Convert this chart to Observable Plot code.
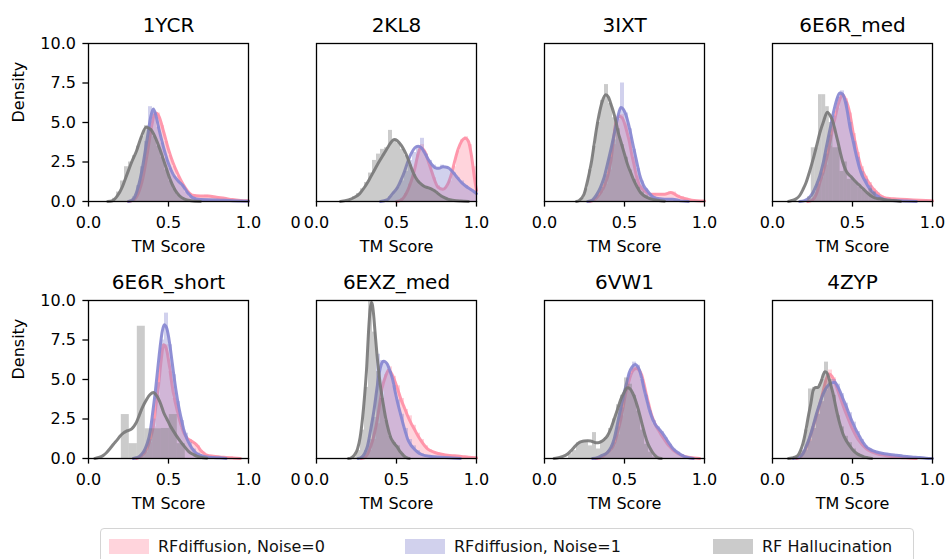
<!DOCTYPE html>
<html><head><meta charset="utf-8">
<script src="https://cdn.jsdelivr.net/npm/d3@7"></script>
<script src="https://cdn.jsdelivr.net/npm/@observablehq/plot@0.6"></script>
<style>
body{margin:0;background:#fff;font-family:"DejaVu Sans",sans-serif;}
#wrap{position:relative;width:947px;height:559px;overflow:hidden;background:#fff;}
#legend{position:absolute;left:100px;top:528px;width:814px;height:46px;border:1px solid #d4d4d4;border-radius:4px;box-sizing:border-box;background:#fff;}
.item{position:absolute;top:7px;height:20px;display:flex;align-items:center;font-size:16px;color:#111;white-space:nowrap;}
.sw{width:40px;height:15px;margin-right:9px;}
</style></head>
<body><div id="wrap"><div id="chart"></div><div id="legend"></div></div>
<script>
// ---------- data ----------
const panels = ["1YCR","2KL8","3IXT","6E6R_med","6E6R_short","6EXZ_med","6VW1","4ZYP"];
const seriesNames = ["RFdiffusion, Noise=0","RFdiffusion, Noise=1","RF Hallucination"];
const xTicks = [0, 0.5, 1.0];
const yTicks = [0, 2.5, 5.0, 7.5, 10.0];
const xLabel = "TM Score";
const yLabel = "Density";

// KDE curves: [Noise=0, Noise=1, Hallucination], each as [x, density] points
const kde_1YCR = [
  [[0.25,0],[0.28,0.08],[0.31,0.5],[0.34,1.5],[0.37,3.2],[0.395,4.8],[0.42,5.6],[0.44,5.4],[0.47,4.4],[0.5,3.3],[0.53,2.4],[0.56,1.7],[0.59,1.1],[0.62,0.65],[0.65,0.4],[0.7,0.35],[0.75,0.35],[0.8,0.27],[0.85,0.2],[0.9,0.12],[0.95,0.07],[1.0,0.04]],
  [[0.25,0],[0.28,0.15],[0.31,0.9],[0.34,2.3],[0.37,4.2],[0.39,5.4],[0.405,5.85],[0.42,5.5],[0.44,4.6],[0.47,3.4],[0.5,2.4],[0.53,1.7],[0.56,1.3],[0.59,1.0],[0.62,0.55],[0.65,0.25],[0.7,0.12],[0.8,0.1],[0.9,0.05],[1.0,0.02]],
  [[0.12,0],[0.15,0.05],[0.18,0.35],[0.21,0.9],[0.24,1.7],[0.27,2.5],[0.3,3.2],[0.33,4.1],[0.36,4.7],[0.39,4.55],[0.42,4.0],[0.45,3.2],[0.48,2.3],[0.51,1.4],[0.54,0.75],[0.57,0.35],[0.6,0.15],[0.64,0.05],[0.7,0]]
];
const kde_2KL8 = [
  [[0.5,0],[0.53,0.1],[0.57,0.7],[0.61,1.9],[0.635,3.0],[0.65,3.4],[0.675,3.2],[0.7,2.5],[0.72,1.9],[0.74,1.3],[0.76,0.9],[0.79,0.78],[0.82,1.1],[0.845,1.8],[0.865,2.6],[0.885,3.3],[0.906,3.8],[0.93,4.0],[0.95,3.8],[0.97,2.8],[0.99,1.3],[1.0,0.7]],
  [[0.4,0],[0.44,0.1],[0.475,0.5],[0.507,0.9],[0.53,1.4],[0.55,1.9],[0.57,2.5],[0.59,3.0],[0.615,3.4],[0.635,3.5],[0.655,3.4],[0.675,3.1],[0.696,2.7],[0.72,2.35],[0.74,2.15],[0.765,2.1],[0.79,2.2],[0.82,2.15],[0.845,1.95],[0.865,1.7],[0.885,1.45],[0.906,1.2],[0.93,1.0],[0.95,0.85],[0.975,0.7],[1.0,0.5]],
  [[0.15,0],[0.2,0.1],[0.235,0.25],[0.27,0.5],[0.3,0.9],[0.33,1.4],[0.36,1.95],[0.39,2.5],[0.42,3.0],[0.45,3.5],[0.47,3.8],[0.486,3.92],[0.505,3.85],[0.53,3.55],[0.55,3.2],[0.57,2.75],[0.59,2.2],[0.61,1.7],[0.63,1.35],[0.654,1.1],[0.675,0.95],[0.696,0.88],[0.72,0.78],[0.74,0.67],[0.76,0.5],[0.78,0.35],[0.8,0.25],[0.82,0.15],[0.86,0.07],[0.9,0.03],[0.95,0]]
];
const kde_3IXT = [
  [[0.28,0],[0.31,0.1],[0.34,0.4],[0.37,0.9],[0.395,1.6],[0.415,2.6],[0.43,3.8],[0.446,5.0],[0.466,5.4],[0.485,5.3],[0.5,4.95],[0.515,4.4],[0.53,3.8],[0.545,3.0],[0.56,2.3],[0.575,1.6],[0.59,1.1],[0.61,0.8],[0.635,0.6],[0.665,0.46],[0.707,0.46],[0.75,0.46],[0.79,0.57],[0.83,0.36],[0.875,0.19],[0.92,0.08],[1.0,0.03]],
  [[0.27,0],[0.3,0.1],[0.33,0.5],[0.35,0.9],[0.372,1.5],[0.393,2.35],[0.415,3.3],[0.435,4.23],[0.455,5.2],[0.477,5.95],[0.492,5.85],[0.508,5.5],[0.525,4.9],[0.54,4.23],[0.555,3.5],[0.571,2.77],[0.585,2.1],[0.6,1.5],[0.62,1.0],[0.644,0.67],[0.665,0.4],[0.686,0.25],[0.72,0.17],[0.75,0.15],[0.8,0.15],[0.85,0.04],[0.9,0]],
  [[0.2,0],[0.215,0.05],[0.247,0.46],[0.262,1.0],[0.278,1.72],[0.295,2.6],[0.31,3.6],[0.325,4.6],[0.341,5.5],[0.36,6.3],[0.383,6.75],[0.4,6.6],[0.414,6.2],[0.43,5.7],[0.446,5.07],[0.46,4.4],[0.477,3.8],[0.5,3.0],[0.519,2.35],[0.54,1.8],[0.56,1.3],[0.58,0.9],[0.6,0.57],[0.62,0.38],[0.644,0.25],[0.67,0.15],[0.707,0.08],[0.75,0.02]]
];
const kde_6E6R_med = [
  [[0.22,0],[0.25,0.1],[0.275,0.5],[0.296,1.2],[0.318,1.9],[0.3375,2.68],[0.36,3.8],[0.38,4.77],[0.4,5.7],[0.42,6.44],[0.4375,6.76],[0.455,6.5],[0.473,6.0],[0.49,5.2],[0.504,4.35],[0.52,3.6],[0.535,2.89],[0.55,2.3],[0.567,1.84],[0.59,1.4],[0.608,1.1],[0.63,0.8],[0.65,0.59],[0.67,0.4],[0.69,0.27],[0.72,0.2],[0.754,0.17],[0.8,0.14],[0.84,0.12],[0.92,0.08],[1.0,0.04]],
  [[0.17,0],[0.2,0.06],[0.23,0.25],[0.254,0.59],[0.275,1.05],[0.296,1.63],[0.318,2.5],[0.3375,3.5],[0.36,4.6],[0.38,5.6],[0.4,6.4],[0.42,6.86],[0.437,6.8],[0.452,6.44],[0.468,5.7],[0.483,4.77],[0.5,4.0],[0.515,3.3],[0.53,2.65],[0.546,2.05],[0.56,1.65],[0.577,1.32],[0.592,1.05],[0.608,0.8],[0.63,0.55],[0.65,0.38],[0.68,0.2],[0.71,0.1],[0.8,0.04],[0.9,0]],
  [[0.1,0],[0.12,0.06],[0.145,0.15],[0.17,0.38],[0.19,0.75],[0.21,1.2],[0.232,1.9],[0.254,2.68],[0.275,3.5],[0.296,4.35],[0.32,5.1],[0.342,5.65],[0.36,5.45],[0.38,4.98],[0.395,4.35],[0.41,3.72],[0.425,3.05],[0.44,2.47],[0.457,2.0],[0.473,1.74],[0.49,1.58],[0.504,1.42],[0.525,1.2],[0.546,1.0],[0.567,0.8],[0.587,0.59],[0.61,0.4],[0.63,0.27],[0.65,0.2],[0.67,0.17],[0.71,0.1],[0.754,0.06],[0.8,0]]
];
const kde_6E6R_short = [
  [[0.3,0],[0.33,0.15],[0.365,0.63],[0.385,1.2],[0.406,2.09],[0.42,3.2],[0.4375,4.6],[0.455,6.3],[0.469,7.2],[0.48,7.1],[0.49,6.8],[0.505,5.9],[0.52,4.8],[0.535,3.9],[0.552,3.14],[0.573,2.3],[0.594,1.67],[0.615,1.3],[0.635,1.15],[0.652,1.05],[0.667,0.94],[0.685,0.75],[0.7,0.52],[0.72,0.35],[0.74,0.21],[0.78,0.14],[0.82,0.1],[0.86,0.07],[0.9,0.04],[0.95,0]],
  [[0.28,0],[0.3,0.05],[0.32,0.15],[0.344,0.42],[0.365,0.9],[0.385,1.67],[0.4,2.8],[0.417,4.18],[0.433,5.7],[0.448,7.1],[0.462,8.1],[0.473,8.47],[0.487,8.3],[0.5,7.74],[0.515,6.7],[0.531,5.44],[0.547,4.3],[0.5625,3.35],[0.578,2.6],[0.594,1.88],[0.615,1.25],[0.635,0.84],[0.656,0.52],[0.677,0.31],[0.71,0.17],[0.74,0.1],[0.78,0.06],[0.82,0.04],[0.86,0]],
  [[0.04,0],[0.07,0.08],[0.094,0.21],[0.115,0.4],[0.135,0.63],[0.156,0.9],[0.177,1.15],[0.198,1.42],[0.219,1.62],[0.235,1.72],[0.25,1.78],[0.27,1.88],[0.285,2.05],[0.3,2.3],[0.316,2.7],[0.333,3.14],[0.35,3.5],[0.365,3.77],[0.385,4.05],[0.406,4.18],[0.42,4.05],[0.4375,3.77],[0.453,3.4],[0.469,2.93],[0.49,2.5],[0.51,2.09],[0.53,1.75],[0.552,1.4],[0.573,1.1],[0.6,0.75],[0.625,0.45],[0.656,0.25],[0.68,0.13],[0.7,0.08],[0.74,0.02]]
];
const kde_6EXZ_med = [
  [[0.28,0],[0.3,0.05],[0.32,0.3],[0.34,0.8],[0.36,1.5],[0.38,2.48],[0.397,3.6],[0.413,4.58],[0.428,5.1],[0.44,5.42],[0.45,5.6],[0.465,5.45],[0.486,5.0],[0.507,4.4],[0.528,3.74],[0.55,3.2],[0.57,2.69],[0.59,2.25],[0.612,1.85],[0.633,1.45],[0.654,1.11],[0.675,0.82],[0.696,0.59],[0.73,0.42],[0.76,0.32],[0.79,0.26],[0.82,0.21],[0.86,0.17],[0.906,0.13],[0.95,0.08],[1.0,0.04]],
  [[0.26,0],[0.277,0.05],[0.3,0.3],[0.319,0.8],[0.34,1.9],[0.36,3.1],[0.376,4.3],[0.392,5.42],[0.405,5.95],[0.419,6.15],[0.432,6.1],[0.444,5.95],[0.46,5.5],[0.476,5.0],[0.49,4.3],[0.507,3.53],[0.523,2.9],[0.539,2.27],[0.555,1.7],[0.57,1.22],[0.59,0.85],[0.612,0.59],[0.633,0.4],[0.654,0.27],[0.68,0.18],[0.717,0.13],[0.76,0.09],[0.8,0.06],[0.85,0.03],[0.9,0]],
  [[0.2,0],[0.214,0.03],[0.235,0.2],[0.256,0.59],[0.272,1.3],[0.287,2.48],[0.3,3.9],[0.314,5.84],[0.325,8.0],[0.335,9.4],[0.344,9.87],[0.35,9.7],[0.356,9.2],[0.366,8.0],[0.377,6.68],[0.39,5.4],[0.4025,4.37],[0.418,3.4],[0.434,2.48],[0.45,1.8],[0.465,1.3],[0.476,1.1],[0.486,0.95],[0.497,0.82],[0.507,0.69],[0.518,0.5],[0.528,0.38],[0.545,0.18],[0.56,0.06],[0.58,0]]
];
const kde_6VW1 = [
  [[0.32,0],[0.35,0.05],[0.39,0.35],[0.435,0.9],[0.455,1.6],[0.477,2.48],[0.492,3.3],[0.508,4.16],[0.525,4.8],[0.54,5.3],[0.556,5.6],[0.575,5.7],[0.59,5.6],[0.607,5.3],[0.62,4.8],[0.634,4.16],[0.65,3.5],[0.665,2.9],[0.68,2.45],[0.697,2.06],[0.712,1.8],[0.728,1.53],[0.75,1.2],[0.77,0.9],[0.79,0.68],[0.81,0.48],[0.835,0.3],[0.864,0.17],[0.9,0.08],[0.937,0.04],[0.97,0]],
  [[0.3,0],[0.33,0.05],[0.36,0.2],[0.393,0.38],[0.415,0.7],[0.435,1.22],[0.45,1.9],[0.466,2.69],[0.482,3.4],[0.498,4.16],[0.514,4.8],[0.529,5.42],[0.548,5.8],[0.567,5.95],[0.58,5.85],[0.592,5.63],[0.607,5.1],[0.623,4.37],[0.64,3.7],[0.655,3.1],[0.67,2.65],[0.686,2.27],[0.7,2.05],[0.717,1.85],[0.733,1.65],[0.749,1.43],[0.77,1.1],[0.79,0.8],[0.81,0.55],[0.833,0.38],[0.86,0.2],[0.895,0.06],[0.93,0]],
  [[0.06,0],[0.08,0.03],[0.11,0.12],[0.142,0.27],[0.165,0.48],[0.184,0.69],[0.2,0.87],[0.215,1.0],[0.23,1.07],[0.247,1.11],[0.27,1.12],[0.289,1.11],[0.305,1.05],[0.32,1.0],[0.335,1.0],[0.351,1.05],[0.372,1.2],[0.393,1.43],[0.415,1.9],[0.435,2.48],[0.456,3.1],[0.477,3.74],[0.498,4.2],[0.519,4.47],[0.535,4.4],[0.55,4.16],[0.565,3.8],[0.58,3.32],[0.597,2.7],[0.613,2.06],[0.628,1.5],[0.644,1.0],[0.66,0.65],[0.676,0.38],[0.69,0.2],[0.707,0.06],[0.73,0]]
];
const kde_4ZYP = [
  [[0.15,0],[0.17,0.05],[0.19,0.3],[0.2125,0.73],[0.233,1.3],[0.254,1.99],[0.275,2.7],[0.296,3.46],[0.315,4.2],[0.333,4.93],[0.354,5.35],[0.372,5.2],[0.39,4.82],[0.41,4.25],[0.43,3.67],[0.45,3.1],[0.473,2.52],[0.494,2.0],[0.515,1.57],[0.535,1.2],[0.556,0.94],[0.578,0.7],[0.6,0.52],[0.625,0.4],[0.65,0.31],[0.68,0.23],[0.7125,0.17],[0.75,0.11],[0.796,0.06],[0.85,0.03],[0.9,0]],
  [[0.13,0],[0.15,0.04],[0.17,0.12],[0.19,0.31],[0.21,0.75],[0.233,1.36],[0.255,2.1],[0.275,2.83],[0.296,3.5],[0.317,4.09],[0.338,4.5],[0.358,4.72],[0.375,4.8],[0.39,4.82],[0.405,4.6],[0.42,4.3],[0.44,3.8],[0.4625,3.25],[0.483,2.7],[0.504,2.2],[0.525,1.75],[0.546,1.36],[0.567,1.0],[0.5875,0.73],[0.61,0.58],[0.63,0.48],[0.65,0.41],[0.67,0.36],[0.7,0.3],[0.733,0.25],[0.775,0.2],[0.817,0.15],[0.87,0.1],[0.92,0.06],[0.96,0.02],[1.0,0]],
  [[0.1,0],[0.12,0.03],[0.14,0.08],[0.16,0.21],[0.175,0.5],[0.19,0.94],[0.207,1.7],[0.223,2.62],[0.24,3.5],[0.254,4.3],[0.27,4.5],[0.285,4.5],[0.296,4.7],[0.306,4.93],[0.317,5.3],[0.327,5.49],[0.338,5.45],[0.348,5.24],[0.363,4.7],[0.379,4.09],[0.395,3.3],[0.41,2.62],[0.425,2.05],[0.44,1.57],[0.457,1.2],[0.473,0.94],[0.49,0.7],[0.504,0.52],[0.525,0.33],[0.546,0.21],[0.567,0.12],[0.5875,0.06],[0.62,0]]
];

// Histograms: [first bin start, bin width, bar heights] for Noise=0, Noise=1, Hallucination
const hist_1YCR = [
  [0.275, 0.025, [0.2,0.6,1.4,2.8,4.5,5.5,5.6,4.8,3.8,2.9,2.2,1.6,1.1,0.7,0.5,0.35,0.35,0.3,0.4,0.3,0.25,0.25,0.2,0.15,0.1,0.1,0.05,0.05,0.03]],
  [0.25, 0.025, [0.05,0.3,1.0,2.2,3.8,6.0,5.6,4.7,3.7,2.7,2.1,1.6,1.3,1.0,0.6,0.3,0.2,0.1,0.1,0.1,0.1,0.1,0.1,0.1,0.05,0.05,0.05,0.05,0.03,0.03]],
  [0.15, 0.025, [0.2,0.6,1.3,2.2,2.5,2.9,3.5,4.1,4.8,4.6,4.1,3.5,2.8,2.0,1.3,0.8,0.4,0.2,0.1]]
];
const hist_2KL8 = [
  [0.5, 0.025, [0.05,0.2,0.5,1.1,2.0,3.0,3.6,3.0,2.3,1.5,1.0,0.7,0.9,1.3,2.2,3.2,3.9,4.1,3.6,2.2]],
  [0.425, 0.025, [0.1,0.3,0.6,0.9,1.3,1.9,2.6,3.1,3.5,4.0,3.0,2.6,2.3,2.1,2.3,2.2,2.0,1.8,1.5,1.3,1.0,0.8,0.6]],
  [0.2, 0.025, [0.1,0.3,0.5,0.8,1.2,1.8,2.6,3.0,3.3,3.4,4.5,3.9,3.7,3.3,2.9,2.3,1.7,1.3,1.0,0.9,0.8,0.7,0.5,0.3,0.2,0.1]]
];
const hist_3IXT = [
  [0.3, 0.025, [0.1,0.3,0.6,1.1,2.0,3.6,5.2,5.5,4.9,4.0,2.8,1.6,1.0,0.7,0.5,0.5,0.4,0.5,0.5,0.6,0.6,0.4,0.3,0.2,0.1,0.05,0.05,0.03]],
  [0.3, 0.025, [0.1,0.4,0.9,1.7,2.8,3.9,5.3,7.5,5.6,4.6,3.3,2.1,1.3,0.8,0.5,0.3,0.2,0.15,0.15,0.15,0.1,0.05]],
  [0.225, 0.025, [0.2,0.8,2.0,3.5,5.0,6.4,7.4,6.2,5.3,4.6,3.6,2.8,2.0,1.4,0.9,0.6,0.4,0.2,0.1,0.05]]
];
const hist_6E6R_med = [
  [0.25, 0.025, [0.2,0.8,1.5,2.3,3.5,4.6,5.9,6.8,6.5,5.6,4.3,3.1,2.2,1.6,1.2,0.8,0.55,0.35,0.25,0.2,0.2,0.15,0.15,0.1,0.1,0.1,0.08,0.05,0.05]],
  [0.225, 0.025, [0.2,0.6,1.1,1.8,3.0,4.2,5.4,6.6,7.0,6.3,5.0,3.8,2.8,1.9,1.4,1.0,0.6,0.4,0.2,0.1,0.05]],
  [0.22, 0.0225, [0.3,3.4,3.4,6.76,6.76,6.0,5.0,3.4,3.4,1.9,2.5,1.4,1.5,1.2,0.9,0.7,0.5,0.8,0.6,0.2,0.1]]
];
const hist_6E6R_short = [
  [0.325, 0.025, [0.1,0.4,1.0,2.0,4.0,7.0,7.2,5.5,3.8,2.8,1.9,1.4,1.2,1.0,0.8,0.4,0.25,0.15,0.1,0.1,0.1,0.05,0.05]],
  [0.325, 0.025, [0.2,0.5,1.2,2.5,4.8,7.5,9.2,7.2,5.3,3.6,2.4,1.6,1.0,0.6,0.35,0.2,0.1,0.08,0.05]],
  [0.205, 0.05, [2.78,0.94,8.37,1.88,1.88,1.9,2.78,0.94]]
];
const hist_6EXZ_med = [
  [0.3, 0.025, [0.1,0.5,1.2,2.2,3.8,5.3,5.8,5.2,4.6,3.8,3.1,2.7,2.1,1.6,1.2,0.8,0.55,0.4,0.35,0.3,0.25,0.2,0.2,0.15,0.12,0.1,0.06,0.04]],
  [0.275, 0.025, [0.1,0.5,1.2,2.6,6.6,6.2,6.0,5.5,4.6,3.7,2.8,1.9,1.2,0.8,0.5,0.3,0.2,0.15,0.1,0.1,0.08,0.05]],
  [0.225, 0.025, [0.1,0.5,1.8,4.5,10.0,8.0,5.5,3.8,2.4,1.4,1.0,0.8,0.3,0.1]]
];
const hist_6VW1 = [
  [0.35, 0.025, [0.1,0.3,0.5,0.8,1.5,2.7,4.3,5.2,5.8,5.8,5.0,4.0,3.0,2.2,1.9,1.5,1.1,0.8,0.5,0.3,0.2,0.1,0.05]],
  [0.325, 0.025, [0.05,0.2,0.3,0.5,1.0,2.0,3.2,4.4,5.4,6.1,5.9,5.0,4.0,3.0,2.4,2.0,1.7,1.3,0.9,0.6,0.4,0.25,0.1,0.05]],
  [0.15, 0.025, [0.3,0.5,1.0,1.05,1.1,0.8,1.64,0.6,1.1,1.3,1.9,2.5,3.4,4.0,5.1,4.7,4.0,3.0,1.8,0.9,0.4,0.1]]
];
const hist_4ZYP = [
  [0.175, 0.025, [0.2,0.6,1.2,1.9,2.8,3.6,4.9,5.6,5.1,4.4,3.8,3.2,2.5,1.9,1.4,1.0,0.7,0.5,0.4,0.3,0.2,0.2,0.15,0.1,0.07,0.05]],
  [0.175, 0.025, [0.2,0.5,1.1,1.9,2.8,3.6,4.3,4.8,5.0,4.7,4.1,3.5,2.9,2.3,1.7,1.2,0.8,0.6,0.5,0.4,0.35,0.3,0.25,0.2,0.2,0.15,0.15,0.1,0.1,0.08,0.05,0.03]],
  [0.175, 0.025, [0.5,1.8,4.4,4.5,4.5,5.0,6.1,5.0,4.0,2.7,2.0,1.4,1.0,0.6,0.3,0.2,0.1]]
];

// ---------- styling ----------
const seriesColors = ["#ff8ea4", "#8585d0", "#777777"];
const fillAlpha = 0.38;

// ---------- build tidy tables ----------
const kdeByPanel = [kde_1YCR, kde_2KL8, kde_3IXT, kde_6E6R_med, kde_6E6R_short, kde_6EXZ_med, kde_6VW1, kde_4ZYP];
const histByPanel = [hist_1YCR, hist_2KL8, hist_3IXT, hist_6E6R_med, hist_6E6R_short, hist_6EXZ_med, hist_6VW1, hist_4ZYP];

const facetRows = panels.map((name, i) => ({name, col: i % 4, row: Math.floor(i / 4)}));
const kdeRows = [], histRows = [];
panels.forEach((name, i) => {
  const col = i % 4, row = Math.floor(i / 4);
  kdeByPanel[i].forEach((pts, s) => pts.forEach(([x, y]) => kdeRows.push({panel: name, col, row, s, x, y})));
  histByPanel[i].forEach(([start, w, hs], s) => hs.forEach((h, k) => histRows.push({panel: name, col, row, s, x1: start + k * w, x2: start + (k + 1) * w, h})));
});

const marks = [];
[0, 1, 2].forEach(s => {
  marks.push(Plot.rect(histRows.filter(d => d.s === s), {
    x1: "x1", x2: "x2", y1: 0, y2: "h", fx: "col", fy: "row",
    fill: seriesColors[s], fillOpacity: fillAlpha, inset: 0
  }));
  marks.push(Plot.line(kdeRows.filter(d => d.s === s), {
    x: "x", y: "y", z: "panel", fx: "col", fy: "row",
    stroke: seriesColors[s], strokeWidth: 3, strokeOpacity: 0.9, curve: "monotone-x"
  }));
});

marks.push(
  Plot.frame({stroke: "black", strokeWidth: 1.3}),
  Plot.axisX({ticks: xTicks, tickFormat: d3.format(".1f"), tickSize: 5.6, tickPadding: 10, strokeWidth: 1.3, fontSize: 16, facetAnchor: null, label: null}),
  Plot.axisY({ticks: yTicks, tickFormat: d3.format(".1f"), tickSize: 5.6, tickPadding: 7, strokeWidth: 1.3, fontSize: 16, label: null}),
  Plot.text(facetRows, {fx: "col", fy: "row", frameAnchor: "top", dy: -12, lineAnchor: "bottom", text: "name", fontSize: 20}),
  Plot.text(facetRows, {fx: "col", fy: "row", frameAnchor: "bottom", dy: 50.5, lineAnchor: "bottom", text: () => xLabel, fontSize: 16}),
  Plot.text(facetRows.filter(d => d.col === 0), {fx: "col", fy: "row", frameAnchor: "left", dx: -70, rotate: -90, text: () => yLabel, fontSize: 16}),
  Plot.text(facetRows.filter(d => d.col === 1), {fx: "col", fy: "row", frameAnchor: "bottom-left", dx: -26, dy: 15.6, lineAnchor: "top", text: () => "0", fontSize: 16})
);

const chart = Plot.plot({
  width: 947, height: 520,
  marginLeft: 88, marginRight: 14, marginTop: 42, marginBottom: 61,
  style: {fontFamily: "'DejaVu Sans', sans-serif", fontSize: "16px", color: "black", background: "white"},
  fx: {domain: [0, 1, 2, 3], paddingInner: 0.2982, paddingOuter: 0, axis: null, label: null},
  fy: {domain: [0, 1], paddingInner: 0.3837, paddingOuter: 0, axis: null, label: null},
  x: {domain: [0, 1]},
  y: {domain: [0, 10]},
  marks
});
document.getElementById("chart").appendChild(chart);

// ---------- legend ----------
const legend = document.getElementById("legend");
const itemLeft = [8, 304, 612];
seriesNames.forEach((name, s) => {
  const item = document.createElement("div");
  item.className = "item";
  item.style.left = itemLeft[s] + "px";
  const sw = document.createElement("div");
  sw.className = "sw";
  sw.style.background = seriesColors[s];
  sw.style.opacity = fillAlpha;
  const label = document.createElement("span");
  label.textContent = name;
  item.appendChild(sw);
  item.appendChild(label);
  legend.appendChild(item);
});
</script>
</body></html>
